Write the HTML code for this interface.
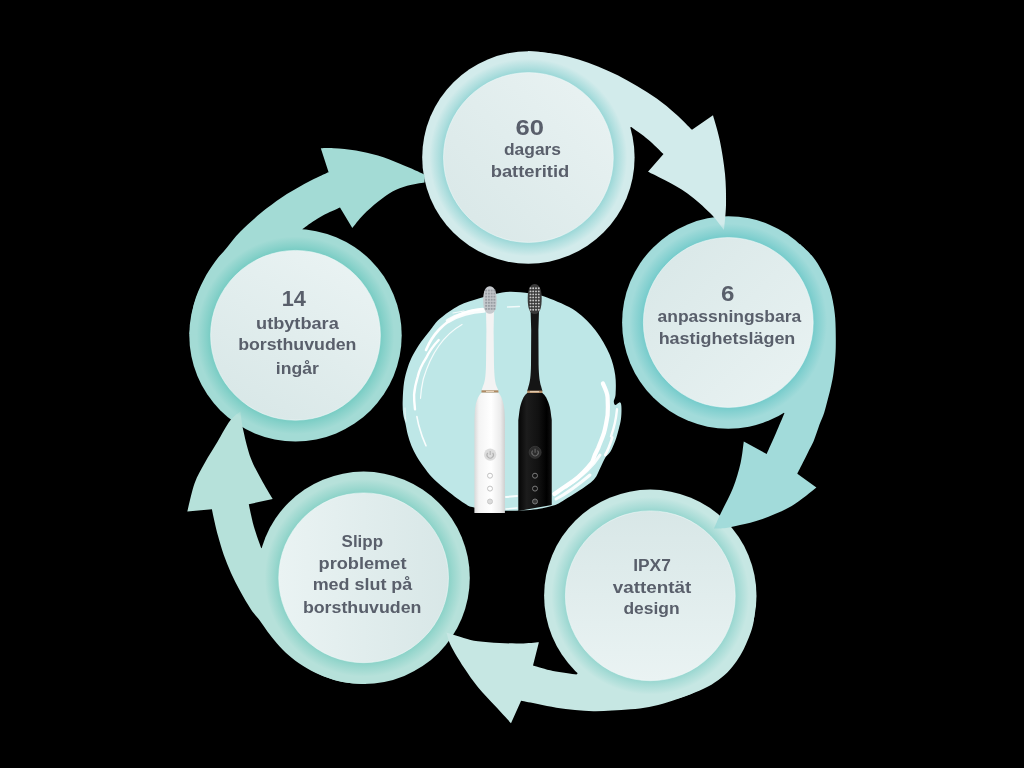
<!DOCTYPE html>
<html><head><meta charset="utf-8"><style>
html,body{margin:0;padding:0;background:#000;width:1024px;height:768px;overflow:hidden}
svg{display:block;will-change:transform}
g.t{opacity:0.995}
text{font-family:"Liberation Sans",sans-serif;font-weight:bold;fill:#595f6b}
</style></head><body>
<svg width="1024" height="768" viewBox="0 0 1024 768">
<defs>
<radialGradient id="sh1" cx="0.5" cy="0.5" r="0.5"><stop offset="0.79" stop-color="#8fd3d3" stop-opacity="0.9"/><stop offset="0.84" stop-color="#8fd3d3" stop-opacity="0.55"/><stop offset="0.93" stop-color="#8fd3d3" stop-opacity="0"/></radialGradient>
<radialGradient id="sh2" cx="0.5" cy="0.5" r="0.5"><stop offset="0.79" stop-color="#6cc8c8" stop-opacity="0.9"/><stop offset="0.84" stop-color="#6cc8c8" stop-opacity="0.55"/><stop offset="0.93" stop-color="#6cc8c8" stop-opacity="0"/></radialGradient>
<radialGradient id="sh3" cx="0.5" cy="0.5" r="0.5"><stop offset="0.79" stop-color="#8fd3cc" stop-opacity="0.9"/><stop offset="0.84" stop-color="#8fd3cc" stop-opacity="0.55"/><stop offset="0.93" stop-color="#8fd3cc" stop-opacity="0"/></radialGradient>
<radialGradient id="sh4" cx="0.5" cy="0.5" r="0.5"><stop offset="0.79" stop-color="#82cfc4" stop-opacity="0.9"/><stop offset="0.84" stop-color="#82cfc4" stop-opacity="0.55"/><stop offset="0.93" stop-color="#82cfc4" stop-opacity="0"/></radialGradient>
<radialGradient id="sh5" cx="0.5" cy="0.5" r="0.5"><stop offset="0.79" stop-color="#6fc9c0" stop-opacity="0.9"/><stop offset="0.84" stop-color="#6fc9c0" stop-opacity="0.55"/><stop offset="0.93" stop-color="#6fc9c0" stop-opacity="0"/></radialGradient>
<linearGradient id="in1" x1="1" y1="0" x2="0" y2="1"><stop offset="0" stop-color="#eaf3f3"/><stop offset="1" stop-color="#d8e7e7"/></linearGradient>
<linearGradient id="in2" x1="0" y1="0" x2="1" y2="1"><stop offset="0" stop-color="#d8e7e7"/><stop offset="1" stop-color="#eaf3f3"/></linearGradient>
<linearGradient id="in3" x1="0" y1="0" x2="0" y2="1"><stop offset="0" stop-color="#d8e7e7"/><stop offset="1" stop-color="#eaf3f3"/></linearGradient>
<linearGradient id="in4" x1="0" y1="0" x2="1" y2="0"><stop offset="0" stop-color="#eaf3f3"/><stop offset="1" stop-color="#d8e7e7"/></linearGradient>
<linearGradient id="in5" x1="0.8" y1="0" x2="0.2" y2="1"><stop offset="0" stop-color="#eaf3f3"/><stop offset="1" stop-color="#d8e7e7"/></linearGradient>
<linearGradient id="wbody" x1="0" y1="0" x2="1" y2="0"><stop offset="0" stop-color="#d9d9d9"/><stop offset="0.15" stop-color="#f4f4f4"/><stop offset="0.55" stop-color="#ffffff"/><stop offset="0.85" stop-color="#ececec"/><stop offset="1" stop-color="#cfcfcf"/></linearGradient>
<linearGradient id="bbody" x1="0" y1="0" x2="1" y2="0"><stop offset="0" stop-color="#050505"/><stop offset="0.25" stop-color="#1c1c1c"/><stop offset="0.6" stop-color="#111"/><stop offset="0.85" stop-color="#000"/><stop offset="1" stop-color="#111"/></linearGradient>
</defs>
<rect width="1024" height="768" fill="#000"/>
<circle cx="528.4" cy="157.5" r="106.2" fill="#d2ebeb"/>
<circle cx="728.3" cy="322.5" r="106.2" fill="#a2dbda"/>
<circle cx="650.3" cy="595.8" r="106.2" fill="#c6e7e3"/>
<circle cx="363.6" cy="577.8" r="106.2" fill="#b6e1da"/>
<circle cx="295.5" cy="335.3" r="106.2" fill="#a3dbd5"/>
<path d="M528.0 51.0 C529.9 51.2 534.3 51.5 539.5 52.1 C544.7 52.7 552.5 53.4 559.0 54.6 C565.5 55.8 572.1 57.5 578.6 59.5 C585.1 61.5 591.5 63.8 598.0 66.4 C604.5 69.0 611.2 71.9 617.7 75.2 C624.2 78.5 630.5 82.1 637.0 86.0 C643.5 89.9 650.2 93.9 656.7 98.6 C663.2 103.3 670.1 109.0 676.0 114.2 C681.9 119.4 689.3 127.2 692.0 129.8 L713.0 115.3 C714.1 119.5 717.8 130.7 719.8 140.4 C721.8 150.1 724.0 163.0 725.0 173.8 C726.0 184.5 726.2 195.6 726.0 205.0 C725.8 214.4 724.3 225.8 724.0 230.0 L724.0 230.0 C721.7 227.2 716.1 219.1 710.0 213.0 C703.9 206.9 695.1 199.0 687.5 193.5 C679.9 188.0 671.2 183.6 664.6 180.0 C658.0 176.4 650.8 173.1 648.0 171.7 L663.5 154.0 C660.9 151.6 653.4 143.9 648.0 139.4 C642.6 134.9 634.1 129.1 631.3 127.0 L528.4 157.5 Z" fill="#d2ebeb"/>
<path d="M800.0 243.9 C802.2 246.1 809.3 252.3 813.0 256.9 C816.7 261.5 819.5 266.5 822.1 271.2 C824.7 276.0 826.9 280.8 828.6 285.6 C830.4 290.4 831.5 294.5 832.6 299.9 C833.7 305.3 834.7 311.4 835.2 318.1 C835.7 324.8 835.8 333.8 835.8 340.0 C835.8 346.2 835.8 350.2 835.4 355.6 C835.0 361.0 834.3 367.6 833.6 372.6 C832.9 377.6 832.2 381.3 831.2 385.6 C830.3 389.9 829.2 394.1 828.0 398.6 C826.8 403.2 825.5 408.6 824.1 412.9 C822.7 417.2 821.2 419.9 819.5 424.6 C817.8 429.3 815.6 436.3 813.7 440.9 C811.8 445.4 810.0 448.2 808.2 451.9 C806.4 455.5 804.6 459.2 802.8 462.8 C801.0 466.4 798.2 471.9 797.3 473.7 L816.4 487.6 C812.3 490.7 800.7 500.8 791.7 506.0 C782.7 511.2 771.1 515.8 762.5 519.0 C753.9 522.2 746.1 523.5 740.0 525.0 C733.9 526.5 730.3 527.4 726.0 528.0 C721.7 528.6 716.0 528.4 714.0 528.5 L714.0 528.5 C715.1 526.0 717.6 520.0 720.8 513.3 C724.0 506.5 729.7 496.4 733.0 488.0 C736.3 479.6 738.8 470.8 740.6 463.0 C742.4 455.2 743.2 445.1 743.8 441.5 L766.7 454.0 C768.2 450.5 773.0 439.8 776.0 433.0 C779.0 426.2 783.0 416.6 784.4 413.3 L728.3 322.5 Z" fill="#a2dbda"/>
<path d="M755.7 600.0 C755.4 603.3 754.7 614.7 753.9 620.0 C753.1 625.3 752.3 627.8 751.0 631.7 C749.7 635.6 748.1 639.5 746.3 643.4 C744.5 647.3 742.8 651.3 740.4 655.2 C738.0 659.1 735.3 663.2 732.2 666.9 C729.1 670.6 725.8 674.1 721.6 677.4 C717.5 680.7 712.9 683.9 707.6 686.8 C702.3 689.6 696.6 691.9 690.0 694.5 C683.4 697.1 674.5 700.2 667.7 702.3 C660.9 704.4 655.3 705.7 649.1 706.9 C642.9 708.1 636.8 708.7 630.6 709.3 C624.4 709.9 618.2 710.3 612.0 710.6 C605.8 710.9 599.7 711.3 593.5 711.2 C587.3 711.1 581.2 710.6 575.0 710.0 C568.8 709.4 562.6 708.8 556.4 707.8 C550.2 706.8 543.7 705.3 537.8 704.1 C531.9 702.9 523.9 701.3 521.1 700.8 L511.0 723.2 C508.4 720.3 500.7 712.0 495.2 706.0 C489.7 700.0 483.2 693.8 478.0 687.3 C472.8 680.8 468.2 674.2 463.7 667.3 C459.2 660.4 453.9 651.8 451.0 646.0 C448.1 640.2 447.2 634.8 446.5 632.5 L446.5 632.5 C449.4 633.4 458.4 636.4 463.7 637.9 C468.9 639.4 472.0 640.4 478.0 641.2 C484.0 642.1 492.3 642.6 499.5 643.0 C506.7 643.4 514.4 643.5 521.0 643.4 C527.6 643.3 535.9 642.4 538.9 642.2 L533.0 665.5 C536.3 666.4 545.8 669.5 553.0 671.0 C560.2 672.5 572.6 673.9 576.5 674.5 L650.3 595.8 Z" fill="#c6e7e3"/>
<path d="M366.0 683.9 C364.2 683.9 360.2 684.1 355.5 683.6 C350.8 683.1 343.8 682.4 337.9 681.0 C332.0 679.6 326.2 677.6 320.3 675.1 C314.4 672.6 308.0 669.0 302.8 665.7 C297.5 662.4 293.0 658.9 288.7 655.2 C284.4 651.5 280.5 647.3 277.0 643.4 C273.5 639.5 270.5 635.6 267.6 631.7 C264.7 627.8 262.2 623.7 259.4 620.0 C256.6 616.3 254.2 614.2 251.0 609.4 C247.8 604.6 243.4 597.2 240.1 591.1 C236.8 585.0 233.7 579.0 231.0 572.9 C228.3 566.8 225.8 560.8 223.7 554.7 C221.6 548.6 219.7 542.0 218.2 536.5 C216.7 531.0 215.6 526.4 214.6 521.9 C213.6 517.4 212.3 511.4 211.9 509.3 L187.3 511.5 C188.5 506.8 191.7 491.5 194.6 483.3 C197.5 475.1 201.2 469.4 205.0 462.5 C208.8 455.6 213.3 448.6 217.5 441.7 C221.7 434.8 226.2 425.8 230.0 420.8 C233.8 415.8 238.7 413.1 240.4 411.5 L240.4 411.5 C240.9 414.8 241.8 423.4 243.5 431.2 C245.2 439.1 247.8 450.3 250.8 458.3 C253.8 466.3 257.6 472.4 261.2 479.2 C264.9 486.0 270.8 495.7 272.7 499.0 L248.8 504.2 C249.6 508.0 251.9 519.7 254.0 527.0 C256.1 534.3 260.0 544.5 261.2 548.0 L363.6 577.8 Z" fill="#b6e1da"/>
<path d="M189.4 334.2 C190.2 329.1 191.7 312.7 194.0 303.7 C196.3 294.7 200.0 287.2 203.5 280.2 C207.0 273.2 211.3 267.0 215.2 261.5 C219.1 256.0 222.9 252.3 227.0 247.4 C231.1 242.5 234.4 237.7 240.0 232.0 C245.6 226.3 253.9 218.8 260.8 213.1 C267.8 207.3 274.8 202.2 281.7 197.5 C288.6 192.8 295.6 188.8 302.5 185.0 C309.4 181.2 318.9 176.7 323.3 174.6 C327.7 172.5 327.7 172.6 328.6 172.2 L320.8 148.3 C323.0 148.3 328.1 147.9 334.0 148.3 C339.9 148.7 348.7 149.3 356.0 150.5 C363.3 151.7 370.6 153.4 377.9 155.6 C385.2 157.8 392.6 160.8 399.9 163.7 C407.2 166.6 417.7 171.3 421.8 173.2 C425.9 175.1 424.1 174.7 424.5 175.0 L424.5 182.5 C421.6 183.0 412.5 184.2 407.2 185.7 C401.9 187.2 397.4 188.8 392.5 191.5 C387.6 194.2 382.8 197.9 377.9 201.8 C373.0 205.7 367.5 210.6 363.2 215.0 C358.9 219.4 354.1 225.9 352.3 228.1 L340.0 207.5 C337.2 208.8 327.8 212.9 323.3 215.2 C318.8 217.5 316.5 219.2 313.0 221.5 C309.5 223.8 304.2 227.8 302.5 229.0 L295.5 335.3 Z" fill="#a3dbd5"/>
<circle cx="528.4" cy="157.5" r="106.2" fill="url(#sh1)"/>
<circle cx="528.4" cy="157.5" r="84.9" fill="url(#in1)" stroke="#f2fafa" stroke-width="0.8" stroke-opacity="0.7"/>
<circle cx="728.3" cy="322.5" r="106.2" fill="url(#sh2)"/>
<circle cx="728.3" cy="322.5" r="84.9" fill="url(#in2)" stroke="#f2fafa" stroke-width="0.8" stroke-opacity="0.7"/>
<circle cx="650.3" cy="595.8" r="106.2" fill="url(#sh3)"/>
<circle cx="650.3" cy="595.8" r="84.9" fill="url(#in3)" stroke="#f2fafa" stroke-width="0.8" stroke-opacity="0.7"/>
<circle cx="363.6" cy="577.8" r="106.2" fill="url(#sh4)"/>
<circle cx="363.6" cy="577.8" r="84.9" fill="url(#in4)" stroke="#f2fafa" stroke-width="0.8" stroke-opacity="0.7"/>
<circle cx="295.5" cy="335.3" r="106.2" fill="url(#sh5)"/>
<circle cx="295.5" cy="335.3" r="84.9" fill="url(#in5)" stroke="#f2fafa" stroke-width="0.8" stroke-opacity="0.7"/>

<path d="M510.0 291.8 C515.8 291.7 523.8 292.5 530.0 293.5 C536.2 294.5 539.3 294.6 547.0 297.6 C554.7 300.6 567.9 305.7 576.0 311.2 C584.1 316.8 590.2 323.6 595.8 330.8 C601.4 338.0 606.3 346.8 609.5 354.2 C612.7 361.6 614.2 368.4 615.2 375.0 C616.2 381.6 615.8 389.6 615.6 394.0 C615.4 398.4 613.8 399.7 613.8 401.5 C613.8 403.3 614.5 404.9 615.5 405.0 C616.5 405.1 618.9 402.1 619.9 402.3 C620.9 402.6 621.2 403.8 621.4 406.5 C621.6 409.2 621.5 414.9 621.0 418.7 C620.5 422.5 619.7 425.5 618.7 429.2 C617.7 432.9 616.6 437.3 615.2 441.0 C613.8 444.7 612.2 448.7 610.5 451.5 C608.8 454.3 606.9 455.1 605.2 457.8 C603.5 460.5 602.4 463.9 600.5 467.5 C598.6 471.1 597.6 475.5 594.0 479.4 C590.4 483.3 584.0 487.3 579.0 490.8 C574.0 494.3 568.3 497.7 563.9 500.2 C559.5 502.7 558.1 504.2 552.5 505.8 C546.9 507.4 538.8 509.2 530.0 510.0 C521.2 510.8 509.3 510.9 500.0 510.5 C490.7 510.1 480.1 508.7 474.2 507.5 C468.2 506.3 469.2 506.5 464.3 503.3 C459.4 500.1 450.0 492.8 444.5 488.4 C439.0 484.0 434.9 480.2 431.5 476.7 C428.1 473.2 426.6 470.9 424.2 467.6 C421.8 464.3 419.0 460.4 416.9 456.7 C414.8 453.0 412.9 449.3 411.4 445.7 C409.9 442.1 408.8 438.4 407.8 434.8 C406.8 431.2 406.3 427.3 405.5 423.8 C404.7 420.3 403.7 417.9 403.2 414.0 C402.7 410.1 402.5 405.5 402.7 400.2 C402.9 394.9 403.2 387.5 404.1 382.0 C405.0 376.5 406.3 371.9 407.8 367.3 C409.3 362.7 411.0 358.8 413.2 354.6 C415.4 350.4 418.2 346.0 421.0 342.0 C423.8 338.0 426.9 334.3 430.0 330.5 C433.1 326.7 434.7 323.2 439.5 319.0 C444.3 314.8 452.5 308.8 459.0 305.4 C465.5 302.0 472.6 300.4 478.6 298.5 C484.6 296.6 489.8 295.1 495.0 294.0 C500.2 292.9 504.2 291.9 510.0 291.8 Z" fill="#bee7e7"/>
<g fill="none" stroke="#fff" stroke-linecap="round" stroke-linejoin="round">
 <path d="M484 310.5 C470 311 458 315 448 321" stroke-width="4.5" opacity="0.9"/>
 <path d="M482.5 309 C465 310 450 318 438.7 330 C432 337 429 343 426 350" stroke-width="2.6"/>
 <path d="M438.7 340 C432 347 429 352 426 358.2 C421 366 419 371 417.8 376.5 C415.5 384 414.5 389 414.1 394.7 C414 400 414.5 405 415 409.3" stroke-width="2.4"/>
 <path d="M462 324.5 C447 333 432 350 423.3 379 C421.5 387 420.8 392 420.5 398.3" stroke-width="1.2" opacity="0.85"/>
 <path d="M453 313 L464 311" stroke-width="1.2" opacity="0.8"/>
 <path d="M416.9 416.6 C418 423 419 427 420.5 431 C422 437 424 441 426 445.7" stroke-width="1.6" opacity="0.9"/>
 <path d="M405 408 C405 415 405.5 419 406 421" stroke-width="1" opacity="0.7"/>
 <path d="M507.5 307 L519.5 306.5" stroke-width="1.3" opacity="0.8"/>
 <path d="M602.9 383.5 C606 390 607.6 394 607.6 397.6 C608 405 608 410 607.6 415.2 C606.5 422 605.5 428 604 432.8 C602 439 600 443 598.2 448 C595 454 593.5 458 592.3 462 C586 470 580 476 573.3 481 C566 486 560 490 554.4 494" stroke-width="4.2"/>
 <path d="M617 409.3 C616 420 614 428 611 436.3" stroke-width="2.4" opacity="0.95"/>
 <path d="M612.3 437.4 C610 445 608 450 605.2 455" stroke-width="2.6" opacity="0.95"/>
 <path d="M600 455 C592 468 580 478 566 487" stroke-width="3" opacity="0.9"/>
 <path d="M590 475 C578 485 566 494 556 499" stroke-width="3" opacity="0.9"/>
 <path d="M506 497 L517 496" stroke-width="2" opacity="0.9"/>
 <path d="M506 509 L517 508" stroke-width="1.5" opacity="0.9"/>
</g>
<!-- white brush -->
<g>
 <path d="M486.4 330 L486 311 L494 311 L493.6 330 L494 365 C494.3 376 495 382 496.4 386 L498.4 390.5 L481.5 390.5 L483 386 C485 382 485.7 376 486 365 Z" fill="#f3f3f3"/>
 <path d="M483.2 300 C483.2 290 486 286.2 489.8 286.2 C493.6 286.2 496.6 290 496.6 300 C496.6 308 495 313.7 489.8 313.7 C484.6 313.7 483.2 308 483.2 300 Z" fill="#c5c9cd"/>
 <g fill="#979ca2"><rect x="485.20" y="289.60" width="1.90" height="1.90"/><rect x="487.95" y="289.60" width="1.90" height="1.90"/><rect x="490.70" y="289.60" width="1.90" height="1.90"/><rect x="493.45" y="289.60" width="1.90" height="1.90"/><rect x="485.20" y="292.65" width="1.90" height="1.90"/><rect x="487.95" y="292.65" width="1.90" height="1.90"/><rect x="490.70" y="292.65" width="1.90" height="1.90"/><rect x="493.45" y="292.65" width="1.90" height="1.90"/><rect x="485.20" y="295.70" width="1.90" height="1.90"/><rect x="487.95" y="295.70" width="1.90" height="1.90"/><rect x="490.70" y="295.70" width="1.90" height="1.90"/><rect x="493.45" y="295.70" width="1.90" height="1.90"/><rect x="485.20" y="298.75" width="1.90" height="1.90"/><rect x="487.95" y="298.75" width="1.90" height="1.90"/><rect x="490.70" y="298.75" width="1.90" height="1.90"/><rect x="493.45" y="298.75" width="1.90" height="1.90"/><rect x="485.20" y="301.80" width="1.90" height="1.90"/><rect x="487.95" y="301.80" width="1.90" height="1.90"/><rect x="490.70" y="301.80" width="1.90" height="1.90"/><rect x="493.45" y="301.80" width="1.90" height="1.90"/><rect x="485.20" y="304.85" width="1.90" height="1.90"/><rect x="487.95" y="304.85" width="1.90" height="1.90"/><rect x="490.70" y="304.85" width="1.90" height="1.90"/><rect x="493.45" y="304.85" width="1.90" height="1.90"/><rect x="485.20" y="307.90" width="1.90" height="1.90"/><rect x="487.95" y="307.90" width="1.90" height="1.90"/><rect x="490.70" y="307.90" width="1.90" height="1.90"/><rect x="493.45" y="307.90" width="1.90" height="1.90"/></g>
 <rect x="481.5" y="390.3" width="16.9" height="2.4" fill="#b08a64"/>
 <rect x="486" y="390.8" width="8" height="1.2" fill="#e8d2b8"/>
 <path d="M481.5 392.7 L498.4 392.7 C501.5 396 503.6 402 504.4 410 L504.9 420 L504.9 513 L474.4 513 L474.4 420 L474.9 410 C475.7 402 478 396 481.5 392.7 Z" fill="url(#wbody)"/>
 <circle cx="490.2" cy="454.6" r="6.2" fill="#dcdcdc"/>
 <path d="M487.8 452.8 A3.2 3.2 0 1 0 492.6 452.8 M490.2 451 L490.2 455" fill="none" stroke="#b2b2b2" stroke-width="1.1"/>
 <circle cx="490" cy="475.7" r="2.5" fill="none" stroke="#c2c2c2" stroke-width="1"/>
 <circle cx="490" cy="488.6" r="2.5" fill="none" stroke="#c2c2c2" stroke-width="1"/>
 <circle cx="490" cy="501.5" r="2.5" fill="#dcdcdc" stroke="#c8c8c8" stroke-width="1"/>
</g>
<!-- black brush -->
<g>
 <path d="M531.2 330 L530.6 311 L539 311 L538.4 330 L538.6 365 C538.8 376 539.8 382 541 386 L542.4 391 L527.2 391 L528.6 386 C530 382 530.8 376 531 365 Z" fill="#151515"/>
 <path d="M527.7 298 C527.7 288 531 284 534.7 284 C538.4 284 541.7 288 541.7 298 C541.7 308 540 314 534.7 314 C529.4 314 527.7 308 527.7 298 Z" fill="#3a3a3a"/>
 <g fill="#c9c9c9"><circle cx="530.5" cy="288.3" r="0.95"/><circle cx="533.2" cy="288.3" r="0.95"/><circle cx="536.0" cy="288.3" r="0.95"/><circle cx="538.8" cy="288.3" r="0.95"/><circle cx="530.5" cy="291.4" r="0.95"/><circle cx="533.2" cy="291.4" r="0.95"/><circle cx="536.0" cy="291.4" r="0.95"/><circle cx="538.8" cy="291.4" r="0.95"/><circle cx="530.5" cy="294.4" r="0.95"/><circle cx="533.2" cy="294.4" r="0.95"/><circle cx="536.0" cy="294.4" r="0.95"/><circle cx="538.8" cy="294.4" r="0.95"/><circle cx="530.5" cy="297.4" r="0.95"/><circle cx="533.2" cy="297.4" r="0.95"/><circle cx="536.0" cy="297.4" r="0.95"/><circle cx="538.8" cy="297.4" r="0.95"/><circle cx="530.5" cy="300.5" r="0.95"/><circle cx="533.2" cy="300.5" r="0.95"/><circle cx="536.0" cy="300.5" r="0.95"/><circle cx="538.8" cy="300.5" r="0.95"/><circle cx="530.5" cy="303.6" r="0.95"/><circle cx="533.2" cy="303.6" r="0.95"/><circle cx="536.0" cy="303.6" r="0.95"/><circle cx="538.8" cy="303.6" r="0.95"/><circle cx="530.5" cy="306.6" r="0.95"/><circle cx="533.2" cy="306.6" r="0.95"/><circle cx="536.0" cy="306.6" r="0.95"/><circle cx="538.8" cy="306.6" r="0.95"/><circle cx="530.5" cy="309.7" r="0.95"/><circle cx="533.2" cy="309.7" r="0.95"/><circle cx="536.0" cy="309.7" r="0.95"/><circle cx="538.8" cy="309.7" r="0.95"/></g>
 <rect x="527.2" y="390.6" width="15.2" height="2.4" fill="#b08a64"/>
 <rect x="530" y="391.1" width="9" height="1.2" fill="#e6cfb4"/>
 <path d="M527.2 393 L542.4 393 C546 396 549 402 550.4 410 L551.75 420 L551.75 505 L518.3 511 L518.3 420 L519.6 410 C520.8 402 523.5 396 527.2 393 Z" fill="url(#bbody)"/>
 <circle cx="535.1" cy="452.3" r="6" fill="#2c2c2c" stroke="#3a3a3a" stroke-width="0.8"/>
 <path d="M532.7 450.5 A3.2 3.2 0 1 0 537.5 450.5 M535.1 448.7 L535.1 452.7" fill="none" stroke="#666" stroke-width="1.1"/>
 <circle cx="535" cy="475.7" r="2.5" fill="none" stroke="#7a7a7a" stroke-width="1"/>
 <circle cx="535" cy="488.6" r="2.5" fill="none" stroke="#7a7a7a" stroke-width="1"/>
 <circle cx="535" cy="501.5" r="2.5" fill="#3a3a3a" stroke="#7a7a7a" stroke-width="1"/>
</g>

<g class="t">
<text x="529.8" y="134.9" font-size="22.5" text-anchor="middle" textLength="28.4" lengthAdjust="spacingAndGlyphs">60</text>
<text x="532.5" y="154.9" font-size="16" text-anchor="middle" textLength="57.1" lengthAdjust="spacingAndGlyphs">dagars</text>
<text x="530.0" y="176.9" font-size="16" text-anchor="middle" textLength="78.7" lengthAdjust="spacingAndGlyphs">batteritid</text>
<text x="727.7" y="300.8" font-size="22.5" text-anchor="middle" textLength="13.4" lengthAdjust="spacingAndGlyphs">6</text>
<text x="729.4" y="321.6" font-size="16" text-anchor="middle" textLength="143.7" lengthAdjust="spacingAndGlyphs">anpassningsbara</text>
<text x="727.0" y="343.8" font-size="16" text-anchor="middle" textLength="136.7" lengthAdjust="spacingAndGlyphs">hastighetslägen</text>
<text x="652.0" y="570.7" font-size="16" text-anchor="middle" textLength="37.6" lengthAdjust="spacingAndGlyphs">IPX7</text>
<text x="652.0" y="592.5" font-size="16" text-anchor="middle" textLength="78.6" lengthAdjust="spacingAndGlyphs">vattentät</text>
<text x="651.5" y="614.2" font-size="16" text-anchor="middle" textLength="56.2" lengthAdjust="spacingAndGlyphs">design</text>
<text x="362.3" y="546.7" font-size="16" text-anchor="middle" textLength="41.4" lengthAdjust="spacingAndGlyphs">Slipp</text>
<text x="362.5" y="568.6" font-size="16" text-anchor="middle" textLength="87.9" lengthAdjust="spacingAndGlyphs">problemet</text>
<text x="362.5" y="590.2" font-size="16" text-anchor="middle" textLength="99.6" lengthAdjust="spacingAndGlyphs">med slut på</text>
<text x="362.2" y="612.6" font-size="16" text-anchor="middle" textLength="118.6" lengthAdjust="spacingAndGlyphs">borsthuvuden</text>
<text x="293.8" y="305.7" font-size="22.5" text-anchor="middle" textLength="24.2" lengthAdjust="spacingAndGlyphs">14</text>
<text x="297.4" y="328.5" font-size="16" text-anchor="middle" textLength="82.7" lengthAdjust="spacingAndGlyphs">utbytbara</text>
<text x="297.3" y="350.4" font-size="16" text-anchor="middle" textLength="118.3" lengthAdjust="spacingAndGlyphs">borsthuvuden</text>
<text x="297.3" y="373.7" font-size="16" text-anchor="middle" textLength="43.1" lengthAdjust="spacingAndGlyphs">ingår</text>
</g>
</svg>
</body></html>
